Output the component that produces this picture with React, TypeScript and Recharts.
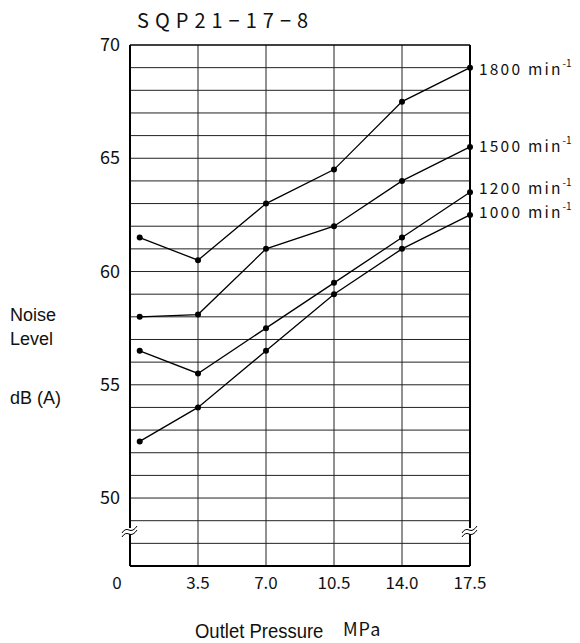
import { LineChart, Line, XAxis, YAxis, ReferenceLine, ReferenceDot } from "recharts"

// Outlet pressure (MPa) where noise was measured
const pressure = [0.5, 3.5, 7, 10.5, 14, 17.5]

// Noise level dB(A) per shaft speed
const rpm1800 = [61.5, 60.5, 63, 64.5, 67.5, 69]
const rpm1500 = [58, 58.1, 61, 62, 64, 65.5]
const rpm1200 = [56.5, 55.5, 57.5, 59.5, 61.5, 63.5]
const rpm1000 = [52.5, 54, 56.5, 59, 61, 62.5]

const speedNames = ["1800", "1500", "1200", "1000"]

const xTicks = [0, 3.5, 7, 10.5, 14, 17.5]
const yTicks = [50, 55, 60, 65, 70]
const gridX = [3.5, 7, 10.5, 14]
const gridY = [48, 49, 50, 51, 52, 53, 54, 55, 56, 57, 58, 59, 60, 61, 62, 63, 64, 65, 66, 67, 68, 69]

const data = pressure.map((p, i) => ({
  p,
  s1800: rpm1800[i],
  s1500: rpm1500[i],
  s1200: rpm1200[i],
  s1000: rpm1000[i],
}))

const keys = ["s1800", "s1500", "s1200", "s1000"]
const labelShift = [0, -2, -5, -4]

const jp = "'Noto Sans CJK JP', 'DejaVu Sans', sans-serif"
const arial = "'Liberation Sans', Arial, sans-serif"

function BreakMark(props: any) {
  const { cx, cy } = props
  return (
    <g>
      <rect x={cx - 4} y={cy - 4} width={8} height={6} fill="#fff" />
      <path d={`M ${cx - 8} ${cy + 1} q 3 -5 7 -3 t 8 -4`} stroke="#000" strokeWidth={1} fill="none" />
      <path d={`M ${cx - 8} ${cy + 5} q 3 -5 7 -3 t 8 -4`} stroke="#000" strokeWidth={1} fill="none" />
    </g>
  )
}

function XTick(props: any) {
  const { x, y, payload } = props
  const v = payload.value
  return (
    <text x={v === 0 ? x - 13 : x} y={y + 7} textAnchor="middle" dominantBaseline="central"
      fontFamily={jp} fontSize={17} fill="#111">
      {v === 0 ? "0" : v.toFixed(1)}
    </text>
  )
}

function YTick(props: any) {
  const { x, y, payload } = props
  return (
    <text x={x - 2} y={y - 2} textAnchor="end" dominantBaseline="central"
      fontFamily={jp} fontSize={18} fill="#111">
      {payload.value}
    </text>
  )
}

function endLabel(idx: number) {
  return (props: any) => {
    const { x, y, index } = props
    if (index !== pressure.length - 1) return null
    return (
      <text x={x + 9} y={y + labelShift[idx]} dominantBaseline="central" fontFamily={jp}
        fontSize={15.5} fill="#111" letterSpacing={2.2}>
        {speedNames[idx]} min
        <tspan fontSize={10} dy={-6} letterSpacing={0}>-1</tspan>
      </text>
    )
  }
}

export default function App() {
  return (
    <div style={{ position: "absolute", left: 0, top: 0, width: 580, height: 643, background: "#fff", overflow: "hidden" }}>
      <div style={{ position: "absolute", left: 137, top: 6, fontFamily: jp, fontSize: 20, lineHeight: "28px", letterSpacing: 6, color: "#111" }}>
        SQP21−17−8
      </div>
      <div style={{ position: "absolute", left: 10, top: 303, fontFamily: arial, fontSize: 18, lineHeight: "24px", color: "#111" }}>
        Noise<br />Level
      </div>
      <div style={{ position: "absolute", left: 10, top: 387, fontFamily: arial, fontSize: 18, lineHeight: "22px", color: "#111" }}>
        dB (A)
      </div>
      <div style={{ position: "absolute", left: 195, top: 620, fontFamily: arial, fontSize: 21, lineHeight: "21px", color: "#111", transform: "scaleX(0.88)", transformOrigin: "left", whiteSpace: "nowrap" }}>
        Outlet Pressure
      </div>
      <div style={{ position: "absolute", left: 343, top: 619, fontFamily: jp, fontSize: 18, lineHeight: "18px", letterSpacing: 1, color: "#111" }}>
        MPa
      </div>
      <LineChart width={580} height={643} data={data} margin={{ top: 45, right: 110, bottom: 47, left: 90 }}>
        {gridY.map((v) => (
          <ReferenceLine key={`gy${v}`} y={v} stroke="#222" strokeWidth={1} />
        ))}
        {gridX.map((v) => (
          <ReferenceLine key={`gx${v}`} x={v} stroke="#222" strokeWidth={1} />
        ))}
        <ReferenceLine y={70} stroke="#000" strokeWidth={1.5} />
        <ReferenceLine x={17.5} stroke="#000" strokeWidth={2} />
        <XAxis dataKey="p" type="number" domain={[0, 17.5]} ticks={xTicks} height={30}
          axisLine={{ stroke: "#000", strokeWidth: 2 }} tickLine={false} tick={<XTick />} interval={0} />
        <YAxis type="number" domain={[47, 70]} ticks={yTicks} width={40}
          axisLine={{ stroke: "#000", strokeWidth: 2 }} tickLine={false} tick={<YTick />} interval={0} />
        {keys.map((k, i) => (
          <Line key={k} dataKey={k} type="linear" stroke="#000" strokeWidth={1.3}
            dot={{ r: 3, fill: "#000", stroke: "#000", strokeWidth: 0 }}
            isAnimationActive={false} label={endLabel(i)} />
        ))}
        <ReferenceDot x={0} y={48.5} r={0} shape={<BreakMark />} ifOverflow="visible" />
        <ReferenceDot x={17.5} y={48.5} r={0} shape={<BreakMark />} ifOverflow="visible" />
      </LineChart>
    </div>
  )
}
